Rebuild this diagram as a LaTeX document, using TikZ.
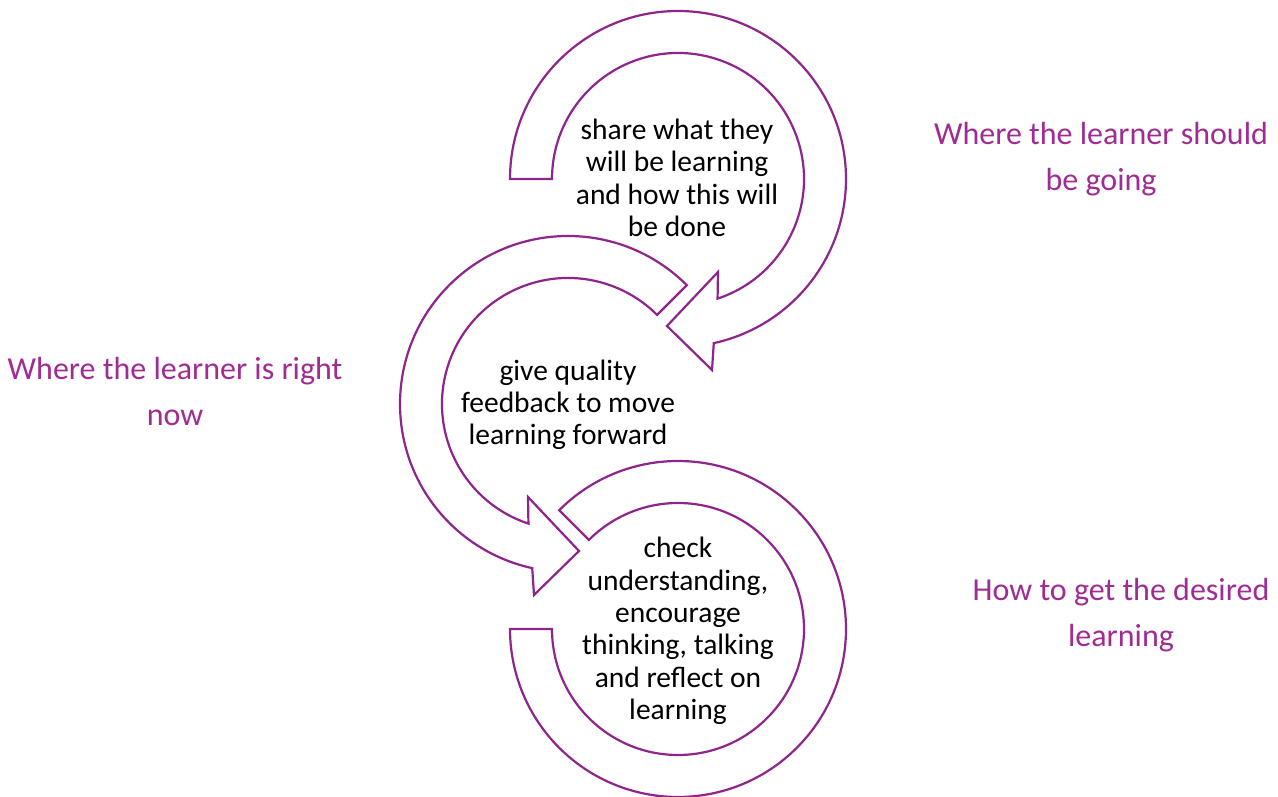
\documentclass[tikz,border=0pt]{standalone}
\usepackage{fontspec}
\setmainfont{Carlito}
\usetikzlibrary{calc}
\definecolor{ring}{RGB}{142,36,140}
\definecolor{lbl}{RGB}{160,43,147}
\tikzset{
  band/.style={draw=ring, line width=2.2pt, fill=white, line join=miter},
  intext/.style={align=center, text=black, font=\fontsize{29.5}{32.3}\selectfont, inner sep=0pt},
  outtext/.style={align=center, text=lbl, font=\fontsize{32}{46}\selectfont, inner sep=0pt}
}
\begin{document}
\begin{tikzpicture}[x=1pt,y=1pt]
\useasboundingbox (0,0) rectangle (1278,797);
\coordinate (c1) at (678,618);
\coordinate (c2) at (568,393);
\coordinate (c3) at (678,168);
% arrow 1 (top), clockwise
\draw[band] ($(c1)+(180:168)$) arc[start angle=180, end angle=-77.7, radius=168]
  -- ($(c1)+(34,-191)$) coordinate (h1o) -- ($(c1)+(-11,-147)$) coordinate (t1)
  -- ($(c1)+(40,-93)$) coordinate (h1i) -- ($(c1)+(-71.7:126)$)
  arc[start angle=-71.7, end angle=180, radius=126] -- cycle;
% arrow 2 (middle), counter-clockwise
\draw[band] ($(c2)+(45:168)$) arc[start angle=45, end angle=257.7, radius=168]
  -- ($(c2)+(-34,-191)$) coordinate (h2o) -- ($(c2)+(11,-147)$) coordinate (t2)
  -- ($(c2)+(-40,-93)$) coordinate (h2i) -- ($(c2)+(251.7:126)$)
  arc[start angle=251.7, end angle=45, radius=126] -- cycle;
% arrow 3 (bottom) band
\draw[band] ($(c3)+(135:168)$) arc[start angle=135, end angle=-180, radius=168]
  -- ($(c3)+(180:126)$) arc[start angle=-180, end angle=135, radius=126] -- cycle;
% texts
\node[intext] (s1) at (677,619) {share what they\\will be learning\\and how this will\\be done};
\node[intext] (s2) at (568,392) {give quality\\feedback to move\\learning forward};
\node[intext] (s3) at (678,166) {check\\understanding,\\encourage\\thinking, talking\\and reflect on\\learning};
\node[outtext] (l1) at (1101,638) {Where the learner should\\be going};
\node[outtext] (l2) at (175,405) {Where the learner is right\\now};
\node[outtext] (l3) at (1121,182) {How to get the desired\\learning};
\end{tikzpicture}
\end{document}
